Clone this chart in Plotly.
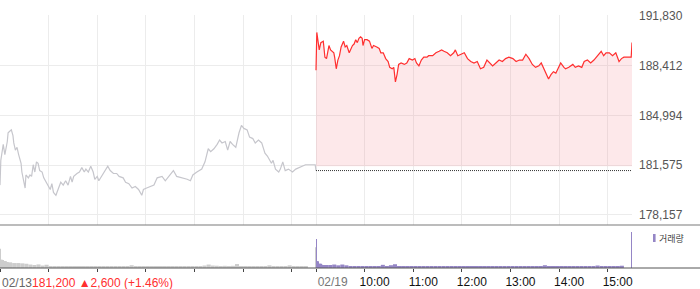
import plotly.graph_objects as go

# ---------------- data ----------------
prev_day_label = "02/13"
prev_close = 181200
prev_change = 2600
prev_change_pct = 1.46

y_tick_vals = [178157, 181575, 184994, 188412, 191830]

day1_times = ["09:00","09:01","09:04","09:06","09:09","09:10","09:12","09:14","09:16","09:17",
              "09:19","09:21","09:23","09:26","09:27","09:29","09:31","09:32","09:35","09:37",
              "09:39","09:41","09:43","09:45","09:47","09:49","09:52","09:54","09:57","10:00",
              "10:02","10:04","10:06","10:09","10:12","10:15","10:18","10:21","10:24","10:27",
              "10:29","10:31","10:35","10:38","10:41","10:44","10:46","10:49","10:52","10:55",
              "10:57","11:00","11:02","11:06","11:10","11:13","11:16","11:20","11:24","11:27",
              "11:32","11:35","11:39","11:43","11:47","11:51","11:55","11:57","12:01","12:05",
              "12:10","12:14","12:18","12:20","12:24","12:28","12:34","12:38","12:45","12:51",
              "12:55","12:58","13:03","13:09","13:13","13:17","13:20","13:24","13:28","13:31",
              "13:34","13:38","13:41","13:44","13:47","13:51","13:55","13:58","14:01","14:05",
              "14:08","14:12","14:15","14:19","14:23","14:27","14:30","14:35","14:37","14:40",
              "14:44","14:46","14:49","14:52","14:56","15:01","15:05","15:09","15:13","15:17",
              "15:20","15:29","15:30"]
day1_prices = [180200,181900,183000,182300,183200,183800,183900,184000,183600,183100,
               182600,182800,182300,181700,181100,180400,180000,180900,180700,180900,
               180800,181600,181100,181800,181700,181200,181100,180700,180400,180200,
               179900,180300,179700,179500,179900,180400,180200,180500,180200,180800,
               180400,180800,181000,181100,181400,181100,181300,181100,181500,181100,
               180600,180800,180500,180900,181200,181500,181200,181000,181000,180800,
               180700,180400,180300,180000,180100,179900,179500,179900,180000,180100,
               180200,180700,180800,180800,180500,180800,181200,180800,180700,180600,
               180500,180900,181100,181300,181800,182700,182500,182700,183000,183300,
               183100,183200,182600,183200,183000,182800,183800,184300,184100,184000,
               183500,183400,183100,183300,183100,182400,182200,181700,181900,181300,
               181100,181300,181800,181200,181300,181100,181300,181400,181500,181600,
               181600,181600,181200]

day2_label = "02/19"
day2_times = ["09:00","09:01","09:04","09:06","09:09","09:11","09:13","09:16","09:18","09:20",
              "09:22","09:23","09:25","09:27","09:29","09:31","09:34","09:36","09:38","09:41",
              "09:43","09:45","09:47","09:49","09:51","09:53","09:55","09:57","09:58","10:00",
              "10:03","10:06","10:09","10:11","10:15","10:18","10:20","10:23","10:26","10:29",
              "10:31","10:34","10:36","10:38","10:40","10:42","10:45","10:49","10:52","10:55",
              "10:59","11:02","11:04","11:07","11:10","11:13","11:17","11:19","11:24","11:28",
              "11:32","11:35","11:38","11:42","11:46","11:50","11:52","11:55","11:59","12:03",
              "12:07","12:11","12:15","12:19","12:23","12:27","12:31","12:35","12:38","12:42",
              "12:46","12:50","12:54","12:58","13:03","13:07","13:11","13:15","13:19","13:23",
              "13:27","13:31","13:35","13:38","13:42","13:45","13:47","13:50","13:53","13:56",
              "13:59","14:02","14:06","14:08","14:12","14:17","14:20","14:24","14:28","14:31",
              "14:35","14:39","14:43","14:48","14:52","14:55","14:58","15:02","15:06","15:10",
              "15:12","15:14","15:17","15:20","15:29","15:30"]
day2_prices = [188100,190700,189500,190000,190100,189000,188900,189800,189500,189400,
               189300,189000,188200,188800,189100,189700,190100,189700,189800,189300,
               189600,189800,189900,190200,190000,190300,190400,190300,189800,190200,
               190200,190100,189600,189800,189700,189600,189300,189300,188900,188700,
               188300,188200,188300,187300,187800,188500,188600,188500,188600,188900,
               188800,188900,188600,188400,188800,189000,189000,189100,189100,189300,
               189400,189500,189400,189300,189100,189300,189500,189100,189200,189300,
               188900,188700,188600,188700,188200,188300,188800,188600,188400,188600,
               188800,188700,188900,189000,188900,188700,188800,188800,189200,188900,
               188500,188300,188400,188600,188100,187800,187500,187800,188000,187900,
               188200,188600,188300,188200,188300,188500,188300,188400,188300,188700,
               188800,188600,188800,189100,189400,189100,189300,189300,189100,189300,
               189000,188700,188900,189000,189000,190000]

# volume: first ten single minutes, then 5-minute buckets 09:10..15:15, then closing auction
open_minute_times = ["09:00","09:01","09:02","09:03","09:04","09:05","09:06","09:07","09:08","09:09"]
day1_open_vol = [19300, 8300, 8300, 8000, 6700, 6700, 6700, 6700, 6000, 5700]
day2_open_vol = [29300, 6700, 6700, 4300, 4300, 4300, 3700, 3300, 3000, 3000]

day1_bucket_vol = [5700, 5000, 5000, 4700, 4300, 3500, 3000, 3600, 2500, 3300,
                   2000,
                   1800, 1700, 1700, 1600, 1700, 1800, 1700, 1600, 1700, 1600, 1700,
                   1400, 1300, 1300, 1400, 1300, 1200, 1300, 1300, 2800, 1400,
                   1300, 1300, 1200, 1300, 1300, 1200, 1300, 1300, 1200, 1300,
                   1300, 1200, 1300, 1300, 1400, 1500,
                   2500, 3500, 2500, 2300, 2000, 2200, 2000, 2200,
                   4000,
                   2000, 2000, 1900, 2000, 2000, 1900, 2000, 2700, 2000, 1900,
                   2000, 2000, 2700, 2000, 1900, 2000, 1300]
day2_bucket_vol = [3000, 3000, 3500, 2700, 3500, 2700, 2000, 2000, 2000, 2000,
                   1700, 1700, 1700, 1700, 3200, 1700, 2800, 3800, 1700, 1700, 1700, 1600,
                   1400, 1300, 1300, 1400, 1300, 1300, 1200, 1300, 1300, 1300,
                   1200, 1300, 1300, 1300, 1200, 1300, 1300, 1300, 1200, 1300,
                   1300, 1300, 1200, 1300, 1300, 1300, 1200, 1300, 1300, 1300,
                   1200, 1300,
                   2800,
                   1300, 1300, 1300, 1300, 1400, 1300, 1300, 1300, 1300, 1300,
                   1300, 1300, 2500, 1300, 1300, 1300, 1300, 1400,
                   2300]
day1_close_vol = 21000
day2_close_vol = 36300

hour_labels = ["10:00", "11:00", "12:00", "13:00", "14:00", "15:00"]

# ---------------- helpers ----------------
SESSION = 390  # minutes 09:00-15:30


def idx(t, day):
    h, m = map(int, t.split(":"))
    return day * SESSION + (h - 9) * 60 + m


bucket_times = []
h, m = 9, 10
while (h, m) <= (15, 15):
    bucket_times.append(f"{h:02d}:{m:02d}")
    m += 5
    if m >= 60:
        h, m = h + 1, m - 60

assert len(day1_times) == len(day1_prices), (len(day1_times), len(day1_prices))
assert len(day2_times) == len(day2_prices), (len(day2_times), len(day2_prices))
assert len(bucket_times) == len(day1_bucket_vol) == len(day2_bucket_vol), \
    (len(bucket_times), len(day1_bucket_vol), len(day2_bucket_vol))

x1 = [idx(t, 0) for t in day1_times]
x2 = [idx(t, 1) for t in day2_times]

GRAY_LINE = "#c6c6cc"
RED = "#ff2f2f"
PURPLE = "#9586c6"
GRAY_BAR = "#cdcdcd"
GRID = "#ececec"
FONT = "Liberation Sans, Arial, sans-serif"

fig = go.Figure()

# previous day line
fig.add_trace(go.Scatter(x=x1, y=day1_prices, mode="lines",
                         line=dict(color=GRAY_LINE, width=1.2), hoverinfo="skip"))
# fill base (invisible) for current day area
fill_base = 181500
fig.add_trace(go.Scatter(x=[x2[0], idx("15:30", 1)], y=[fill_base, fill_base], mode="lines",
                         line=dict(width=0, color="rgba(0,0,0,0)"), hoverinfo="skip"))
fig.add_trace(go.Scatter(x=x2, y=day2_prices, mode="lines", fill="tonexty",
                         fillcolor="rgba(245,140,150,0.2)",
                         line=dict(color=RED, width=1.2), hoverinfo="skip"))
# previous close reference line
fig.add_trace(go.Scatter(x=[idx("09:00", 1), idx("15:30", 1)], y=[prev_close, prev_close],
                         mode="lines", line=dict(color="#333333", width=1, dash="1px,1px"),
                         hoverinfo="skip"))

# volume bars
for day, open_vol, bucket_vol, close_vol, col in [
        (0, day1_open_vol, day1_bucket_vol, day1_close_vol, GRAY_BAR),
        (1, day2_open_vol, day2_bucket_vol, day2_close_vol, PURPLE)]:
    fig.add_trace(go.Bar(x=[idx(t, day) for t in bucket_times], y=bucket_vol,
                         width=5, offset=0, marker=dict(color=col, line=dict(width=0)),
                         xaxis="x2", yaxis="y2", hoverinfo="skip"))
    fig.add_trace(go.Bar(x=[idx(t, day) for t in open_minute_times], y=open_vol,
                         width=1.2, offset=0, marker=dict(color=col, line=dict(width=0)),
                         xaxis="x2", yaxis="y2", hoverinfo="skip"))
    fig.add_trace(go.Bar(x=[idx("15:30", day)], y=[close_vol],
                         width=1.2, offset=-1.0, marker=dict(color=col, line=dict(width=0)),
                         xaxis="x2", yaxis="y2", hoverinfo="skip"))

# ticks
grid_ticks = [idx(f"{hh}:00", 0) for hh in range(10, 16)] + \
             [idx("09:00", 1)] + [idx(f"{hh}:00", 1) for hh in range(10, 16)]
axis_ticks = [idx("09:00", 0)] + grid_ticks
axis_text = [""] * 7 + ['<span style="color:#777">\u00a0\u00a0\u00a0\u00a0' + day2_label + "</span>"] + hour_labels

W, H = 700, 289
mt, mb, mr = 15, 21, 68
plot_h = H - mt - mb  # 253
plot_w = W - mr
main_bottom_px = 225
vol_top_px = 226
main_dom0 = (H - mb - main_bottom_px) / plot_h
vol_dom1 = (H - mb - vol_top_px) / plot_h

px_per_val = 49.7 / (y_tick_vals[1] - y_tick_vals[0])
y_top = y_tick_vals[-1] + (16 - mt) / px_per_val
y_bot = y_tick_vals[-1] - (main_bottom_px - 16) / px_per_val

vol_max = max(day1_open_vol + day2_open_vol + [day1_close_vol, day2_close_vol])

fig.update_layout(
    width=W, height=H,
    margin=dict(l=0, r=mr, t=mt, b=mb),
    paper_bgcolor="white", plot_bgcolor="white",
    showlegend=False, barmode="overlay",
    font=dict(family=FONT, size=12, color="#111"),
    xaxis=dict(domain=[0, 1], anchor="y", range=[0, 2 * SESSION], tickvals=grid_ticks,
               showticklabels=False, showgrid=True, gridcolor=GRID, gridwidth=1,
               zeroline=False, showline=False, ticks=""),
    yaxis=dict(domain=[main_dom0, 1], anchor="x", side="right", range=[y_bot, y_top],
               tickvals=y_tick_vals, ticktext=[f"{v:,}" for v in y_tick_vals],
               showgrid=True, gridcolor=GRID, zeroline=False, ticks="",
               tickfont=dict(color="#555", size=12), ticklabelstandoff=6),
    xaxis2=dict(domain=[0, 1], anchor="y2", range=[0, 2 * SESSION], tickvals=axis_ticks,
                ticktext=axis_text, showgrid=False, zeroline=False, showline=False,
                ticks="outside", ticklen=3, tickcolor="#444", tickwidth=1,
                tickfont=dict(color="#111", size=12), ticklabelshift=10, tickangle=0),
    yaxis2=dict(domain=[0, vol_dom1], anchor="x2", range=[0, vol_max * 42 / 36],
                showticklabels=False, showgrid=False, zeroline=False, ticks=""),
    shapes=[
        dict(type="line", xref="paper", yref="paper", x0=0, x1=W / plot_w,
             y0=main_dom0, y1=main_dom0, line=dict(color="#7a7a7a", width=1.2)),
        dict(type="line", xref="paper", yref="paper", x0=0, x1=W / plot_w,
             y0=0, y1=0, line=dict(color="#555", width=1)),
        dict(type="rect", xref="paper", yref="paper",
             x0=653 / plot_w, x1=655.6 / plot_w,
             y0=(H - mb - 242) / plot_h, y1=(H - mb - 234) / plot_h,
             fillcolor=PURPLE, line=dict(width=0)),
    ],
    annotations=[
        dict(xref="paper", yref="paper", x=0, y=(H - mb - 282.7) / plot_h,
             xanchor="left", yanchor="middle", showarrow=False,
             text=(f'<span style="color:#666">{prev_day_label}</span>'
                   f'<span style="color:#ff2f2f">{prev_close:,} \u25b2{prev_change:,} (+{prev_change_pct:.2f}%)</span>'),
             font=dict(family=FONT, size=12)),
        dict(xref="paper", yref="paper", x=656.5 / plot_w, y=(H - mb - 238) / plot_h,
             xanchor="left", yanchor="middle", showarrow=False, text="거래량",
             font=dict(family="Noto Sans CJK KR", size=9, color="#444")),
    ],
)

fig.write_html("out.html")
